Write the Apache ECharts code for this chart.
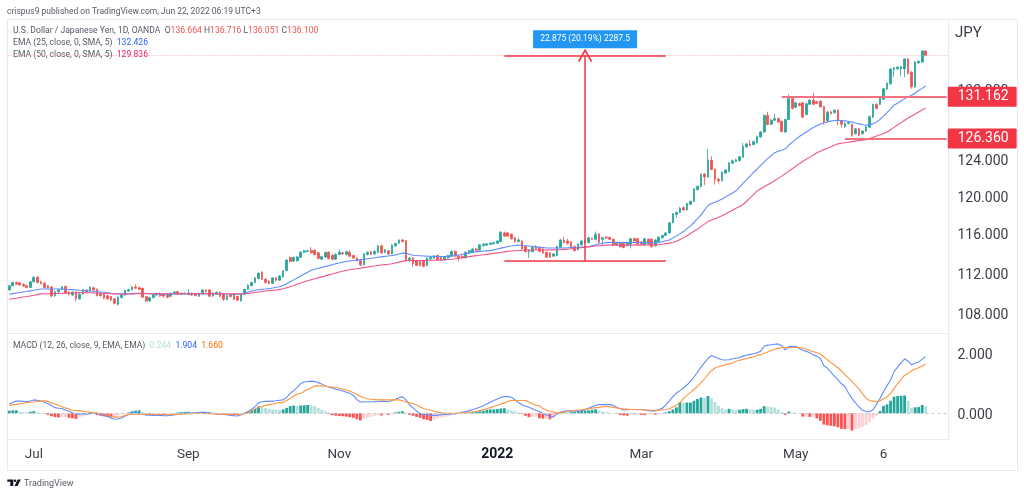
<!DOCTYPE html>
<html>
<head>
<meta charset="utf-8">
<style>html,body{margin:0;background:#fff}#main{width:1024px;height:495px}</style>
<script src="https://cdn.jsdelivr.net/npm/echarts@6/dist/echarts.min.js"></script>
</head>
<body>
<div id="main"></div>
<script>
// daily bars, [open, close, low, high]
var candles = [
[110.33,110.75,110.25,110.82],[110.75,111.08,110.7,111.15],[111.05,110.9,110.85,111.18],[111.04,110.82,110.78,111.1],[110.88,110.72,110.65,110.98],
[110.75,110.58,110.5,110.85],[110.58,111.14,110.52,111.2],[111.14,111.56,111.08,111.72],[111.6,111.07,111.0,111.68],[111.14,110.98,110.9,111.25],
[111.0,110.58,110.5,111.1],[110.75,110.55,110.45,110.82],[110.62,109.74,109.62,110.7],[109.77,110.16,109.65,110.25],[110.16,110.36,110.05,110.42],
[110.36,110.65,110.3,110.72],[110.68,110.03,109.95,110.75],[110.1,109.9,109.8,110.2],[109.84,110.1,109.75,110.2],[110.1,109.45,109.2,110.18],
[109.45,109.9,109.38,110.0],[109.94,110.36,109.85,110.42],[110.33,110.16,110.1,110.4],[110.23,110.59,110.15,110.68],[110.55,110.33,110.28,110.62],
[110.39,109.77,109.7,110.48],[110.0,109.77,109.68,110.08],[109.94,109.51,109.42,110.02],[109.77,109.45,109.38,109.85],[109.68,109.35,109.25,109.75],
[109.45,109.03,108.92,109.52],[108.93,109.61,108.8,109.7],[109.58,109.84,109.5,109.92],[109.84,110.29,109.75,110.36],[110.23,110.36,110.15,110.45],
[110.36,110.62,110.3,110.7],[110.62,110.49,110.42,110.88],[110.55,110.39,110.32,110.65],[110.49,109.61,109.52,110.55],[109.68,109.25,109.15,109.75],
[109.25,109.58,109.18,109.66],[109.58,109.84,109.5,109.92],[109.84,109.97,109.75,110.08],[109.9,109.77,109.65,110.1],[109.87,109.74,109.55,110.0],
[109.84,109.61,109.5,110.05],[109.71,110.0,109.62,110.1],[109.97,110.13,109.88,110.22],[110.16,109.9,109.82,110.28],[110.0,109.9,109.82,110.08],
[109.94,110.0,109.85,110.1],[109.87,110.03,109.8,110.42],[110.0,109.84,109.75,110.08],[109.94,109.77,109.7,110.02],[109.71,109.97,109.65,110.05],
[109.94,110.33,109.85,110.42],[110.33,110.16,110.08,110.42],[110.33,109.71,109.62,110.4],[109.74,110.0,109.65,110.1],[109.9,110.1,109.82,110.18],
[110.1,109.71,109.62,110.18],[109.9,109.42,109.25,110.0],[109.38,109.77,109.3,109.85],[109.84,109.68,109.6,110.0],[109.94,109.42,109.35,110.02],
[109.68,109.32,109.25,109.75],[109.25,109.9,109.18,109.98],[109.9,110.39,109.82,110.45],[110.39,110.81,110.32,110.88],[110.75,111.07,110.68,111.15],
[111.07,111.53,111.0,111.6],[111.46,111.98,111.4,112.1],[112.1,111.4,111.32,112.2],[111.4,111.07,110.98,111.5],[111.2,110.98,110.88,111.3],
[110.98,111.53,110.9,111.6],[111.53,111.3,111.2,111.62],[111.3,111.72,111.22,111.8],[111.63,112.24,111.55,112.3],[112.28,113.32,112.2,113.4],
[113.58,113.18,113.1,113.68],[113.22,113.58,113.12,113.68],[113.25,113.64,113.18,113.72],[113.6,114.13,113.52,114.22],[114.13,114.26,114.05,114.35],
[114.2,114.26,114.12,114.36],[114.32,114.06,113.98,114.65],[114.32,113.87,113.8,114.4],[114.06,113.48,113.4,114.15],[113.41,113.67,113.32,113.75],
[113.64,114.1,113.55,114.2],[114.13,113.48,113.4,114.22],[113.8,113.41,113.3,113.9],[113.41,113.9,113.32,114.0],[113.9,114.13,113.82,114.4],
[114.05,113.95,113.88,114.2],[113.88,114.18,113.8,114.28],[114.11,113.72,113.65,114.3],[113.78,113.52,113.45,113.88],[113.52,113.25,113.18,113.6],
[113.25,112.85,112.72,113.32],[112.85,113.95,112.75,114.02],[113.88,114.11,113.8,114.2],[114.18,113.91,113.82,114.28],[113.95,114.21,113.85,114.3],
[114.11,114.78,114.02,114.85],[114.78,114.05,113.98,114.9],[114.11,114.38,114.0,114.45],[114.28,113.95,113.85,114.36],[113.95,114.85,113.88,114.92],
[114.78,115.01,114.7,115.1],[115.05,115.38,114.98,115.45],[115.38,115.21,115.12,115.48],[115.31,113.22,113.15,115.38],[113.25,113.52,113.15,113.62],
[113.52,112.95,112.62,113.6],[113.25,112.78,112.7,113.35],[113.25,112.75,112.68,113.32],[113.25,112.68,112.6,113.32],[112.78,113.52,112.7,113.6],
[113.45,113.62,113.35,113.72],[113.52,113.72,113.45,113.82],[113.78,113.35,113.28,113.88],[113.62,113.35,113.25,113.7],[113.32,113.65,113.25,113.72],
[113.55,113.78,113.48,113.85],[113.72,114.21,113.65,114.28],[114.18,113.72,113.65,114.3],[113.72,113.55,113.18,113.8],[113.72,113.55,113.48,113.8],
[113.55,114.11,113.48,114.18],[114.05,114.28,113.98,114.35],[114.11,114.45,114.05,114.52],[114.45,114.31,114.25,114.52],[114.35,114.88,114.28,114.95],
[114.78,114.95,114.7,115.02],[114.85,114.98,114.78,115.05],[114.91,115.05,114.85,115.12],[114.98,115.11,114.9,115.18],[115.05,115.28,114.98,115.35],
[115.21,116.18,115.15,116.3],[116.11,115.78,115.7,116.25],[116.11,115.78,115.7,116.2],[115.98,115.51,115.42,116.05],[115.61,115.21,115.12,115.7],
[115.21,115.38,115.12,115.61],[115.28,114.45,114.38,115.35],[114.71,114.18,114.1,114.8],[114.18,114.38,113.52,114.45],[114.18,114.61,114.1,114.7],
[114.71,114.45,114.38,114.85],[114.61,114.21,114.12,114.7],[114.45,114.05,113.98,114.52],[114.11,113.62,113.55,114.2],[114.05,113.62,113.55,114.12],
[113.72,113.95,113.65,114.02],[113.78,114.71,113.7,114.78],[114.61,115.38,114.55,115.48],[115.38,115.11,115.02,115.68],[115.28,115.01,114.92,115.5],
[115.18,114.61,114.52,115.25],[114.71,114.28,114.2,114.8],[114.38,114.95,114.3,115.02],[114.88,115.28,114.8,115.35],[115.28,115.11,115.02,115.38],
[115.11,115.61,115.02,115.7],[115.55,115.45,115.38,115.62],[115.45,115.95,115.38,116.25],[116.01,115.11,115.02,116.1],[115.45,115.61,114.9,115.7],
[115.68,115.58,115.5,115.75],[115.65,115.45,115.38,115.72],[115.45,114.88,114.8,115.52],[114.88,115.11,114.8,115.2],[115.11,114.68,114.6,115.2],
[115.11,114.61,114.52,115.2],[114.78,115.11,114.7,115.2],[114.95,115.51,114.51,115.6],[115.51,115.28,115.2,115.62],[115.51,114.95,114.88,115.6],
[115.18,114.95,114.85,115.25],[114.88,115.51,114.8,115.58],[115.45,114.95,114.85,115.55],[115.45,114.68,114.6,115.52],[114.78,115.38,114.7,115.45],
[115.21,115.68,115.15,115.75],[115.61,115.85,115.52,115.92],[115.85,116.11,115.78,116.18],[116.11,117.18,116.05,117.25],[117.18,118.11,117.1,118.2],
[118.05,118.26,117.7,118.35],[118.26,118.73,118.18,118.82],[118.77,118.53,118.45,118.88],[118.53,119.2,118.45,119.3],[119.13,119.44,119.05,119.52],
[119.44,120.77,119.38,120.85],[120.7,121.06,120.62,121.15],[121.03,122.38,120.95,122.45],[122.38,122.07,121.2,122.5],[122.07,123.93,122.0,125.17],
[123.93,122.9,122.8,124.35],[122.94,121.82,121.25,123.0],[121.82,121.66,121.35,122.0],[121.66,122.59,121.6,122.7],[122.49,122.83,122.4,122.95],
[122.69,123.63,122.6,123.7],[123.58,123.86,123.5,124.0],[123.76,123.98,123.7,124.1],[123.86,124.31,123.8,124.4],[124.24,125.48,124.2,125.85],
[125.43,125.74,125.3,125.85],[125.74,125.56,125.5,126.2],[125.66,126.0,125.6,126.15],[125.86,126.58,125.8,126.7],[126.52,127.09,126.45,127.2],
[127.09,128.99,127.0,129.1],[128.99,127.95,127.85,129.42],[127.98,128.44,127.9,128.6],[128.44,128.63,128.35,129.2],[128.63,128.24,128.15,128.75],
[128.31,127.15,127.05,128.4],[127.1,128.52,127.0,128.6],[128.52,130.97,128.45,131.43],[130.97,129.8,129.7,131.05],[129.93,130.45,129.85,130.6],
[130.35,130.14,130.05,130.5],[130.45,128.8,128.65,130.55],[129.1,130.35,129.0,130.45],[130.28,130.76,130.2,130.9],[130.76,130.28,130.2,131.6],
[130.58,130.4,130.3,130.7],[130.65,129.98,129.9,130.75],[130.03,128.24,127.95,130.1],[128.35,129.4,128.2,129.5],[129.4,129.2,129.1,129.55],
[129.3,129.6,129.2,129.7],[129.6,128.35,127.9,129.7],[128.35,127.97,127.6,128.45],[127.73,128.07,127.6,128.2],[128.07,128.17,127.95,128.3],
[127.97,126.73,126.55,128.05],[126.9,127.46,126.8,127.55],[127.46,126.74,126.65,127.55],[126.9,127.2,126.8,127.3],[127.2,127.7,127.1,127.8],
[127.63,128.85,127.55,128.95],[128.8,130.27,128.7,130.35],[130.27,129.8,129.7,130.4],[130.27,130.98,130.2,131.05],[130.87,132.11,130.8,132.2],
[132.08,132.78,132.0,132.85],[132.7,134.47,132.6,134.55],[134.39,134.6,133.5,134.7],[134.49,134.7,134.4,134.8],[134.49,134.75,133.6,134.85],
[134.49,135.68,133.5,135.75],[135.68,133.93,133.8,135.75],[134.09,132.34,132.1,134.2],[132.34,135.3,132.2,135.4],[135.2,135.4,135.1,135.5],
[135.3,136.66,135.2,136.72],[136.664,136.1,136.051,136.716]
];
var ema25 = [
109.9,109.97,110.03,110.08,110.13,110.18,110.24,110.3,110.37,110.42,
110.42,110.43,110.43,110.42,110.42,110.42,110.4,110.38,110.36,110.33,
110.3,110.28,110.25,110.22,110.2,110.17,110.13,110.1,110.05,110.0,
109.97,109.95,109.95,109.94,109.95,109.97,109.99,110.0,110.01,109.98,
109.95,109.94,109.93,109.92,109.92,109.92,109.92,109.93,109.94,109.95,
109.95,109.95,109.95,109.95,109.95,109.96,109.97,109.96,109.96,109.96,
109.95,109.94,109.93,109.92,109.91,109.9,109.92,110.03,110.12,110.2,
110.3,110.35,110.39,110.42,110.48,110.53,110.59,110.65,110.78,110.95,
111.14,111.33,111.52,111.72,111.92,112.1,112.3,112.4,112.5,112.58,
112.67,112.76,112.85,112.94,113.02,113.12,113.17,113.22,113.27,113.32,
113.37,113.41,113.46,113.5,113.55,113.6,113.65,113.7,113.74,113.78,
113.85,113.93,114.03,114.05,113.92,113.81,113.78,113.76,113.74,113.72,
113.71,113.7,113.69,113.68,113.69,113.72,113.74,113.78,113.84,113.91,
113.98,114.05,114.11,114.18,114.21,114.24,114.26,114.28,114.36,114.45,
114.54,114.62,114.71,114.76,114.81,114.85,114.83,114.79,114.75,114.71,
114.67,114.63,114.59,114.55,114.55,114.55,114.55,114.55,114.56,114.58,
114.6,114.61,114.63,114.66,114.68,114.71,114.79,114.87,114.96,115.04,
115.11,115.12,115.12,115.11,115.11,115.11,115.11,115.12,115.12,115.12,
115.11,115.11,115.11,115.1,115.1,115.11,115.2,115.29,115.38,115.58,
115.8,116.01,116.25,116.55,116.85,117.2,117.6,118.0,118.5,119.0,
119.2,119.35,119.5,119.7,119.92,120.13,120.34,120.57,120.98,121.38,
121.78,122.17,122.59,122.95,123.36,123.73,124.09,124.43,124.76,124.92,
125.04,125.18,125.59,125.95,126.26,126.57,126.83,127.09,127.35,127.61,
127.81,128.0,128.12,128.23,128.33,128.4,128.44,128.41,128.36,128.3,
128.23,128.12,128.02,127.92,127.87,127.89,128.02,128.23,128.54,128.9,
129.32,129.73,130.19,130.4,130.66,130.92,131.16,131.34,131.6,131.9,
132.15,132.43
];
var ema50 = [
109.42,109.47,109.52,109.58,109.63,109.68,109.74,109.8,109.87,109.94,
109.95,109.96,109.97,109.98,109.99,110.0,110.02,110.03,110.05,110.06,
110.07,110.07,110.06,110.05,110.04,110.03,110.01,110.0,109.98,109.96,
109.94,109.93,109.92,109.92,109.93,109.94,109.95,109.97,109.98,109.97,
109.96,109.95,109.95,109.95,109.95,109.95,109.95,109.95,109.96,109.96,
109.96,109.96,109.96,109.96,109.96,109.96,109.97,109.97,109.97,109.97,
109.96,109.96,109.95,109.95,109.94,109.94,109.94,109.96,109.99,110.03,
110.07,110.12,110.17,110.22,110.26,110.29,110.33,110.36,110.45,110.55,
110.65,110.77,110.9,111.02,111.14,111.24,111.34,111.44,111.53,111.63,
111.73,111.83,111.92,112.02,112.11,112.2,112.3,112.35,112.4,112.45,
112.5,112.56,112.61,112.67,112.72,112.77,112.82,112.86,112.9,112.95,
113.03,113.11,113.19,113.28,113.28,113.28,113.28,113.28,113.28,113.29,
113.3,113.31,113.31,113.32,113.35,113.38,113.41,113.45,113.5,113.56,
113.61,113.67,113.72,113.77,113.81,113.86,113.9,113.95,114.0,114.05,
114.1,114.16,114.21,114.24,114.27,114.3,114.32,114.35,114.35,114.35,
114.35,114.35,114.35,114.35,114.36,114.36,114.37,114.38,114.41,114.44,
114.47,114.51,114.55,114.59,114.63,114.67,114.71,114.75,114.78,114.82,
114.85,114.85,114.85,114.85,114.85,114.85,114.85,114.85,114.85,114.85,
114.85,114.86,114.86,114.87,114.87,114.88,114.94,115.0,115.05,115.11,
115.24,115.42,115.62,115.82,116.05,116.28,116.5,116.77,117.03,117.3,
117.45,117.6,117.75,117.9,118.1,118.3,118.5,118.7,118.9,119.1,
119.45,119.82,120.18,120.57,120.79,121.0,121.22,121.44,121.66,121.92,
122.17,122.44,122.71,122.98,123.25,123.52,123.77,124.02,124.26,124.51,
124.76,124.93,125.1,125.26,125.42,125.59,125.75,125.81,125.87,125.93,
126.0,126.06,126.12,126.17,126.21,126.36,126.5,126.64,126.79,126.93,
127.09,127.35,127.62,127.89,128.16,128.43,128.69,128.92,129.15,129.38,
129.61,129.84
];
var macdLine = [
.31,.36,.41,.41,.40,.39,.41,.45,.44,.41,
.38,.32,.26,.19,.17,.16,.11,.07,.02,-.02,
-.02,-.02,-.02,-.01,0,0,-.04,-.08,-.11,-.16,
-.2,-.19,-.16,-.09,-.03,.03,.02,0,-.03,-.06,
-.06,-.07,-.07,-.07,-.08,-.08,-.07,-.05,-.03,-.02,
0,.01,.01,.02,.03,.03,.03,.01,0,-.02,
-.03,-.04,-.05,-.07,-.08,-.09,-.05,-.01,.06,.13,
.22,.35,.39,.4,.4,.41,.42,.44,.45,.53,
.67,.76,.87,1.0,1.05,1.07,1.08,1.07,1.03,.98,
.92,.88,.85,.81,.78,.75,.71,.67,.6,.46,
.38,.38,.39,.39,.39,.39,.4,.4,.39,.43,
.47,.52,.56,.45,.28,.18,.08,-.02,-.04,-.05,
-.06,-.07,-.06,-.05,-.04,-.03,-.02,-.01,0,.03,
.06,.09,.13,.16,.2,.25,.31,.37,.43,.48,
.54,.56,.56,.54,.46,.36,.29,.24,.2,.15,
.1,.06,-.01,-.06,-.1,-.11,-.02,.04,.07,.08,
.08,.08,.08,.09,.12,.17,.22,.27,.29,.29,
.29,.3,.26,.2,.15,.11,.12,.13,.13,.13,
.13,.11,.09,.08,.08,.12,.17,.28,.42,.56,
.68,.76,.85,.95,1.07,1.22,1.38,1.55,1.7,1.84,
1.94,1.89,1.84,1.8,1.79,1.8,1.83,1.85,1.87,1.92,
1.95,1.98,2.0,2.03,2.08,2.25,2.29,2.3,2.32,2.33,
2.27,2.13,2.24,2.25,2.25,2.18,2.12,2.08,2.03,1.97,
1.92,1.85,1.6,1.52,1.38,1.25,1.12,1.0,.9,.68,
.5,.35,.22,.1,.06,.05,.12,.3,.5,.73,
.93,1.12,1.4,1.55,1.7,1.83,1.75,1.63,1.68,1.72,
1.82,1.904
];
var signalLine = [
.27,.29,.3,.32,.34,.36,.37,.38,.4,.41,
.42,.4,.35,.31,.27,.22,.18,.14,.1,.09,
.09,.07,.05,.03,.02,.01,0,-.02,-.06,-.1,
-.13,-.13,-.11,-.07,-.05,-.03,-.03,-.03,-.03,-.03,
-.03,-.04,-.04,-.04,-.04,-.05,-.05,-.05,-.04,-.03,
-.02,-.01,-.01,0,0,0,-.01,-.01,-.02,-.02,
-.03,-.03,-.04,-.04,-.04,-.05,-.05,-.01,.02,.08,
.14,.2,.23,.27,.29,.31,.34,.36,.36,.43,
.5,.58,.65,.67,.74,.8,.86,.92,.92,.92,
.91,.89,.88,.86,.84,.81,.78,.75,.69,.63,
.57,.52,.49,.47,.46,.45,.45,.45,.45,.45,
.45,.45,.42,.39,.35,.33,.28,.22,.16,.13,
.11,.07,.04,.02,0,0,0,0,.01,.02,
.02,.04,.05,.07,.09,.13,.15,.19,.23,.27,
.31,.35,.4,.43,.43,.43,.43,.43,.37,.32,
.27,.25,.16,.11,.07,.04,.02,.03,.05,.06,
.08,.09,.11,.12,.14,.15,.17,.19,.2,.22,
.23,.22,.2,.18,.16,.14,.14,.13,.13,.12,
.12,.11,.11,.1,.1,.1,.12,.13,.15,.21,
.27,.36,.49,.6,.7,.8,.9,1.03,1.16,1.3,
1.43,1.52,1.56,1.6,1.63,1.66,1.69,1.75,1.78,1.81,
1.84,1.87,1.9,1.94,1.97,2.02,2.06,2.11,2.15,2.18,
2.2,2.2,2.2,2.21,2.21,2.21,2.19,2.16,2.11,2.07,
2.03,1.99,1.9,1.8,1.71,1.62,1.53,1.42,1.3,1.19,
1.07,.95,.82,.66,.51,.43,.41,.39,.42,.49,
.55,.67,.83,1.0,1.14,1.27,1.35,1.43,1.48,1.53,
1.59,1.66
];
var histogram = [
.09,.1,.1,.05,.04,.03,.05,.07,.03,.01,
-.02,-.05,-.1,-.13,-.14,-.13,-.12,-.15,-.17,-.19,
-.12,-.1,-.06,-.03,-.01,-.06,-.08,-.1,-.12,-.14,
-.12,-.08,-.04,-.02,.03,.07,.09,.1,.04,-.03,
-.05,-.04,-.03,-.02,-.03,-.02,-.01,.01,.03,.04,
.05,.05,.03,.01,0,.02,.03,.03,.02,.01,
-.01,-.02,-.03,-.04,-.05,-.06,-.03,.02,.06,.11,
.15,.23,.2,.18,.15,.13,.12,.11,.13,.18,
.24,.26,.25,.26,.27,.28,.27,.24,.18,.12,
.07,-.03,-.06,-.08,-.09,-.1,-.11,-.13,-.15,-.2,
-.24,-.19,-.16,-.12,-.09,-.06,-.07,-.03,-.05,-.01,
.03,.05,.07,.02,-.05,-.08,-.12,-.15,-.2,-.22,
-.26,-.22,-.17,-.14,-.12,-.1,-.07,-.05,-.03,-.01,
.01,.02,.04,.05,.07,.09,.12,.13,.13,.14,
.16,.17,.12,.1,.07,.03,-.02,-.08,-.13,-.12,
-.12,-.17,-.18,-.17,-.2,-.16,-.05,.03,.04,.03,
.04,.05,.07,.08,.09,.1,.12,.13,.08,.06,
.04,.02,.01,-.02,-.06,-.07,-.08,-.02,-.03,-.03,
-.05,-.06,-.02,-.01,-.05,-.03,.01,.03,.07,.13,
.2,.37,.36,.36,.36,.42,.48,.53,.51,.58,
.5,.38,.25,.17,.13,.15,.13,.12,.12,.14,
.15,.13,.12,.12,.15,.24,.22,.21,.19,.13,
.05,-.05,.06,.03,.02,.01,-.11,-.11,-.12,-.12,
-.17,-.25,-.38,-.4,-.42,-.44,-.47,-.52,-.53,-.53,
-.58,-.55,-.5,-.45,-.4,-.3,-.17,-.08,.08,.25,
.3,.42,.56,.58,.59,.6,.42,.19,.2,.21,
.28,.244
];
var priceTicks = [108, 112, 116, 120, 124, 132];
var macdTicks = [0, 2];
var timeTickDates = ['2021-07-01', '2021-09-01', '2021-11-01', '2022-01-03', '2022-03-01', '2022-05-02', '2022-06-06'];
var timeTickLabels = ['Jul', 'Sep', 'Nov', '2022', 'Mar', 'May', '6'];

// weekdays from 22 Jun 2021, with a few empty days after the last bar
var dates = [];
var day = new Date(Date.UTC(2021, 5, 22));
while (dates.length < 268) {
  if (day.getUTCDay() != 0 && day.getUTCDay() != 6) dates.push(day.toISOString().slice(0, 10));
  day = new Date(day.getTime() + 86400000);
}

var UP = '#26a69a', DOWN = '#ef5350', UP_PALE = '#b2dfdb', DOWN_PALE = '#ffcdd2', DRAW = '#f23645';
var FONT = 'Roboto';
var SMALL = '8.6px Roboto';

function levelTag(price, text, fromIdx) {
  return [{
    coord: [dates[fromIdx], price],
    lineStyle: {color: '#f4717f', width: 2, type: 'solid'},
    label: {
      show: true, position: 'end', distance: 1, formatter: text, color: '#fff',
      backgroundColor: DRAW, fontFamily: FONT, fontSize: 14, padding: [3, 8, 3, 10], borderRadius: 1
    }
  }, {coord: [dates[267], price]}];
}

function drawLine(a, pa, b, pb, style) {
  return [{coord: [dates[a], pa], lineStyle: style}, {coord: [dates[b], pb]}];
}

var myChart = echarts.init(document.getElementById('main'), null, {renderer: 'canvas'});

myChart.setOption({
  animation: false,
  backgroundColor: '#fff',
  textStyle: {fontFamily: FONT},
  grid: [
    {left: 7.5, width: 941, top: 19.5, height: 314, show: true, borderColor: '#e8eaef', borderWidth: 1, backgroundColor: '#fff'},
    {left: 7.5, width: 941, top: 333.5, height: 106, show: true, borderColor: '#e8eaef', borderWidth: 1, backgroundColor: '#fff'}
  ],
  xAxis: [
    {type: 'category', gridIndex: 0, data: dates, show: false},
    {
      type: 'category', gridIndex: 1, data: dates,
      axisLine: {show: false}, axisTick: {show: false}, splitLine: {show: false},
      axisLabel: {
        interval: function (i, v) { return timeTickDates.indexOf(v) >= 0; },
        formatter: function (v) {
          var t = timeTickLabels[timeTickDates.indexOf(v)];
          return t == '2022' ? '{b|' + t + '}' : t;
        },
        rich: {b: {fontWeight: 'bold', color: '#131722', fontSize: 14, fontFamily: FONT}},
        color: '#3a3e48', fontSize: 13.5, margin: 8, hideOverlap: false
      }
    }
  ],
  yAxis: [
    {
      type: 'log', logBase: 10, gridIndex: 0, position: 'right', min: 106.11, max: 140.56,
      axisLine: {show: false}, axisTick: {show: false}, splitLine: {show: false}, minorTick: {show: false},
      axisLabel: {
        customValues: priceTicks, margin: 9, color: '#3a3e48', fontSize: 14,
        verticalAlign: 'top', padding: [-5, 0, 0, 0],
        formatter: function (v) { return Number(v).toFixed(3); }
      }
    },
    {
      type: 'value', gridIndex: 1, position: 'right', min: -0.88, max: 2.68,
      axisLine: {show: false}, axisTick: {show: false}, splitLine: {show: false},
      axisLabel: {
        customValues: macdTicks, margin: 9, color: '#3a3e48', fontSize: 14,
        verticalAlign: 'top', padding: [-5, 0, 0, 0],
        formatter: function (v) { return Number(v).toFixed(3); }
      }
    }
  ],
  series: [
    {
      name: 'USDJPY', type: 'candlestick', xAxisIndex: 0, yAxisIndex: 0, data: candles,
      barWidth: 2.2, clip: false, z: 3,
      itemStyle: {color: UP, color0: DOWN, borderColor: UP, borderColor0: DOWN, borderWidth: 0.8},
      markLine: {
        silent: true, symbol: 'none', animation: false, z: 6, label: {show: false},
        data: [
          {yAxis: 136.1, lineStyle: {color: '#f5a0a0', width: 1, type: [1, 2]}},
          drawLine(141, 136.1, 187, 136.1, {color: DRAW, width: 1.5, type: 'solid'}),
          drawLine(141, 113.225, 187, 113.225, {color: DRAW, width: 1.5, type: 'solid'}),
          [{coord: [dates[164], 113.225], symbol: 'none', lineStyle: {color: DRAW, width: 1.5, type: 'solid'}},
           {coord: [dates[164], 136.1], symbol: 'path://M10 0L20 10L18.6 11.4L10 2.8L1.4 11.4L0 10Z', symbolSize: 14}],
          levelTag(131.162, '131.162', 220),
          levelTag(126.36, '126.360', 238)
        ]
      },
      markPoint: {
        silent: true, animation: false, symbol: 'rect', symbolSize: [104, 18],
        itemStyle: {color: '#2196f3'},
        label: {show: true, position: 'inside', color: '#fff', fontSize: 8.5, fontFamily: FONT},
        data: [{coord: [dates[164], 138.1], value: '22.875 (20.19%) 2287.5'}]
      }
    },
    {name: 'EMA 25', type: 'line', xAxisIndex: 0, yAxisIndex: 0, data: ema25, showSymbol: false, z: 4,
     lineStyle: {color: '#5f8cff', width: 1.1}},
    {name: 'EMA 50', type: 'line', xAxisIndex: 0, yAxisIndex: 0, data: ema50, showSymbol: false, z: 4,
     lineStyle: {color: '#f0568c', width: 1.1}},
    {
      name: 'Histogram', type: 'bar', xAxisIndex: 1, yAxisIndex: 1, data: histogram, barWidth: 2.8,
      itemStyle: {
        color: function (p) {
          var v = histogram[p.dataIndex], prev = p.dataIndex > 0 ? histogram[p.dataIndex - 1] : 0;
          if (v >= 0) return v >= prev ? UP : UP_PALE;
          return v < prev ? '#ff5252' : DOWN_PALE;
        }
      },
      markLine: {
        silent: true, symbol: 'none', animation: false, label: {show: false},
        lineStyle: {color: '#c8cbd2', width: 1, type: [3, 3]},
        data: [{yAxis: 0}]
      }
    },
    {name: 'MACD', type: 'line', xAxisIndex: 1, yAxisIndex: 1, data: macdLine, showSymbol: false, z: 4,
     lineStyle: {color: '#5f8cff', width: 1.1}},
    {name: 'Signal', type: 'line', xAxisIndex: 1, yAxisIndex: 1, data: signalLine, showSymbol: false, z: 4,
     lineStyle: {color: '#ff9343', width: 1.1}}
  ],
  graphic: [
    {type: 'rect', silent: true, z: -1, shape: {x: 7.5, y: 19.5, width: 1010, height: 451}, style: {fill: 'none', stroke: '#e8eaef', lineWidth: 1}},
    {type: 'text', silent: true, left: 7, top: 7, style: {text: 'crispus9 published on TradingView.com, Jun 22, 2022 06:19 UTC+3', fill: '#555a66', font: '8.5px Roboto'}},
    {type: 'text', silent: true, left: 955, top: 26, style: {text: 'JPY', fill: '#3a3e48', font: '15px Roboto'}},
    {type: 'text', silent: true, left: 13, top: 26, style: {
      text: 'U.S. Dollar / Japanese Yen, 1D, OANDA  O{r|136.664} H{r|136.716} L{r|136.051} C{r|136.100}',
      fill: '#555a66', font: SMALL, rich: {r: {fill: '#ef5350', font: SMALL}}}},
    {type: 'text', silent: true, left: 13, top: 38, style: {
      text: 'EMA (25, close, 0, SMA, 5)  {b|132.426}', fill: '#555a66', font: SMALL,
      rich: {b: {fill: '#2962ff', font: SMALL}}}},
    {type: 'text', silent: true, left: 13, top: 50, style: {
      text: 'EMA (50, close, 0, SMA, 5)  {p|129.836}', fill: '#555a66', font: SMALL,
      rich: {p: {fill: '#e91e63', font: SMALL}}}},
    {type: 'text', silent: true, left: 13, top: 341, style: {
      text: 'MACD (12, 26, close, 9, EMA, EMA)  {h|0.244}  {b|1.904}  {o|1.660}', fill: '#555a66', font: SMALL,
      rich: {h: {fill: '#b2dfdb', font: SMALL}, b: {fill: '#2962ff', font: SMALL}, o: {fill: '#ff6d00', font: SMALL}}}},
    // logo, bottom left
    {type: 'polygon', silent: true, shape: {points: [[7.3, 479.5], [13.3, 479.5], [13.3, 486], [10.3, 486], [10.3, 481.8], [7.3, 481.8]]}, style: {fill: '#131722'}},
    {type: 'circle', silent: true, shape: {cx: 15, cy: 480.8, r: 1.3}, style: {fill: '#131722'}},
    {type: 'polygon', silent: true, shape: {points: [[17.6, 479.5], [20.8, 479.5], [17.6, 486], [14.5, 486]]}, style: {fill: '#131722'}},
    {type: 'text', silent: true, left: 24, top: 479, style: {text: 'TradingView', fill: '#555a66', font: '9px Roboto'}}
  ]
});
</script>
</body>
</html>
